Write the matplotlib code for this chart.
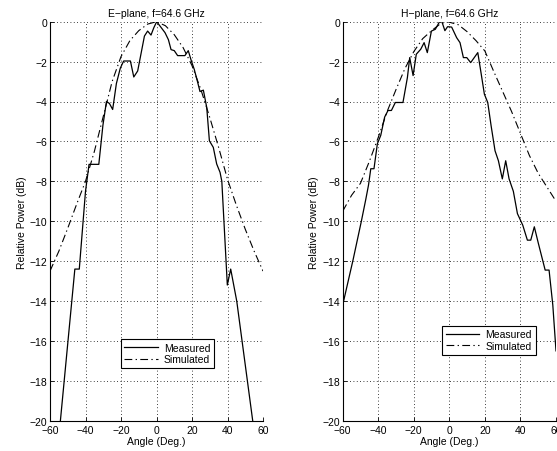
import matplotlib
matplotlib.use("Agg")
import matplotlib.pyplot as plt

plt.rcParams["font.family"] = ["Liberation Sans", "DejaVu Sans"]

# E-plane measured pattern (angle in deg, relative power in dB)
e_meas_angle = [-55, -46, -43.5, -40, -38, -32.5, -30.2, -28.2, -26.5, -24.7, -22.6,
                -20.4, -18.5, -14.7, -12.8, -10.6, -6.8, -5, -3.1, -1.5, 0.1, 2, 4.8,
                6.7, 8.2, 10, 11.9, 16, 17.9, 19.4, 21.3, 23, 24.5, 26.4, 28.3, 29.8,
                32, 33.9, 35.8, 36.8, 39.9, 41.8, 45.2, 54.2, 55]
e_meas_db = [-20.8, -12.4, -12.4, -8.5, -7.15, -7.15, -5.2, -4.0, -4.1, -4.4, -3.1,
             -2.33, -1.97, -1.97, -2.77, -2.47, -0.72, -0.47, -0.67, -0.3, 0.0, -0.22,
             -0.55, -0.9, -1.4, -1.45, -1.7, -1.7, -1.45, -1.9, -2.4, -2.97, -3.5,
             -3.43, -4.3, -5.97, -6.3, -7.13, -7.55, -8.0, -13.2, -12.4, -14.0, -20.0,
             -20.6]

# E-plane simulated pattern
e_sim_angle = [-60, -55, -50, -45, -40, -35, -30, -25, -20, -15, -10, -5, 0,
               5, 10, 15, 20, 25, 30, 35, 40, 45, 50, 55, 60]
e_sim_db = [-12.5, -11.5, -10.35, -9.15, -8.0, -6.5, -4.75, -3.0, -1.75, -0.95, -0.45, -0.12, 0.0,
            -0.2, -0.65, -1.3, -2.2, -3.4, -4.8, -6.3, -7.9, -9.2, -10.4, -11.5, -12.5]

# H-plane measured pattern
h_meas_angle = [-60, -54.2, -49.5, -47, -45.5, -44.2, -42.4, -40.5, -38.6, -36.4, -34.5,
                -32.6, -30.4, -26.1, -23.6, -22.3, -20.4, -18.6, -16.1, -14.2, -12.4,
                -10.1, -7.9, -5.5, -4.2, -2.5, -1.0, 1.3, 4.1, 6.0, 7.9, 9.8, 12, 16,
                17.8, 19.7, 21.6, 23.5, 25.7, 27.6, 29.8, 31.7, 33.6, 36, 38.3, 41.3,
                43.9, 45.8, 47.8, 50.1, 53.9, 56.1, 58.2, 60]
h_meas_db = [-14.2, -11.95, -10.0, -8.9, -8.2, -7.37, -7.37, -6.12, -5.7, -4.78, -4.45,
             -4.45, -4.05, -4.05, -2.8, -1.8, -2.7, -1.63, -1.38, -1.05, -1.55,
             -0.47, -0.38, 0.0, 0.0, -0.45, -0.25, -0.27, -0.8, -1.05, -1.8, -1.8, -2.05,
             -1.55, -2.55, -3.63, -4.05, -5.22, -6.47, -6.97, -7.88, -6.97, -7.88,
             -8.5, -9.62, -10.2, -10.95, -10.95, -10.28, -11.12, -12.45, -12.45,
             -14.2, -16.5]

# H-plane simulated pattern
h_sim_angle = [-60, -55, -50, -45, -40, -35, -30, -25, -20, -15, -10, -5, -1,
               5, 10, 15, 20, 25, 30, 35, 40, 45, 50, 55, 60]
h_sim_db = [-9.5, -8.7, -8.1, -7.0, -5.8, -4.5, -3.4, -2.35, -1.5, -0.85, -0.45, -0.1, 0.0,
            -0.15, -0.5, -0.95, -1.47, -2.5, -3.5, -4.5, -5.6, -6.7, -7.6, -8.3, -9.0]

titles = ["E\u2212plane, f=64.6 GHz", "H\u2212plane, f=64.6 GHz"]
x_ticks = [-60, -40, -20, 0, 20, 40, 60]
y_ticks = [0, -2, -4, -6, -8, -10, -12, -14, -16, -18, -20]

W, H = 557, 452
fig = plt.figure(figsize=(W / 100, H / 100), dpi=100)

ax_specs = [
    ([50 / W, 30.3 / H, 213 / W, 399 / H], e_meas_angle, e_meas_db, e_sim_angle, e_sim_db,
     (0.551, 0.168)),
    ([342.7 / W, 30.3 / H, 213.3 / W, 399 / H], h_meas_angle, h_meas_db, h_sim_angle, h_sim_db,
     (0.686, 0.202)),
]

dashdot = (0, (7, 3, 1.2, 3))

for (rect, ma, md, sa, sd, leg_pos), title in zip(ax_specs, titles):
    ax = fig.add_axes(rect)
    ax.plot(ma, md, color="black", lw=0.9, label="Measured")
    ax.plot(sa, sd, color="black", lw=0.8, linestyle=dashdot, label="Simulated")
    ax.set_xlim(-60, 60)
    ax.set_ylim(-20, 0)
    ax.set_xticks(x_ticks)
    ax.set_yticks(y_ticks)
    ax.set_xticklabels([f"{v}".replace("-", "\u2212") for v in x_ticks])
    ax.set_yticklabels([f"{v}".replace("-", "\u2212") for v in y_ticks])
    ax.grid(True, color="black", linestyle=(0, (1, 3)), linewidth=0.6)
    for s in ("top", "right"):
        ax.spines[s].set_visible(False)
    for s in ("left", "bottom"):
        ax.spines[s].set_linewidth(0.8)
    ax.tick_params(direction="in", length=3, width=0.6, labelsize=7.5)
    ax.tick_params(axis="x", pad=3.2)
    ax.tick_params(axis="y", pad=2)
    ax.set_title(title, fontsize=7.5, pad=4)
    ax.set_xlabel("Angle (Deg.)", fontsize=7.5, labelpad=0.5)
    ax.set_ylabel("Relative Power (dB)", fontsize=7.5, labelpad=2)
    leg = ax.legend(loc="center", bbox_to_anchor=leg_pos, fontsize=7.5, frameon=True,
                    fancybox=False, edgecolor="black", framealpha=1, handlelength=3.2,
                    borderpad=0.35, labelspacing=0.15, handletextpad=0.6)
    leg.get_frame().set_linewidth(0.8)

fig.savefig("out.png", dpi=100)
